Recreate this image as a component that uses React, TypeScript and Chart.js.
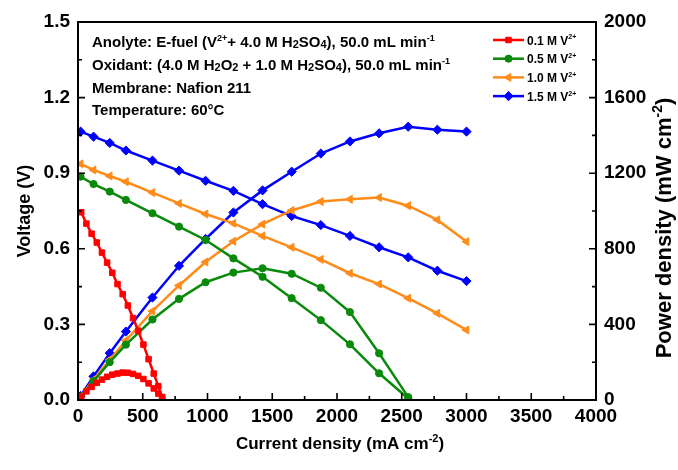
import React, { useEffect, useRef } from 'react';
import { Chart, registerables } from 'chart.js';

Chart.register(...registerables);

// Current density (mA cm-2) at each measured point
const currentRed = [25, 65, 105, 145, 185, 225, 265, 305, 345, 385, 425, 465, 505, 545, 585, 620, 650];
const currentHigh = [20, 120, 245, 370, 575, 780, 985, 1200, 1425, 1650, 1875, 2100, 2325, 2550, 2775, 3000];

// Cell voltage (V)
const voltageRed = [0.745, 0.70, 0.66, 0.625, 0.585, 0.545, 0.505, 0.46, 0.42, 0.375, 0.325, 0.275, 0.22, 0.162, 0.105, 0.055, 0.012];
const voltageGreen = [0.886, 0.857, 0.827, 0.794, 0.741, 0.688, 0.635, 0.562, 0.489, 0.404, 0.317, 0.221, 0.106, 0.006];
const voltageOrange = [0.937, 0.913, 0.889, 0.866, 0.823, 0.78, 0.738, 0.701, 0.651, 0.606, 0.558, 0.503, 0.46, 0.404, 0.344, 0.278];
const voltageBlue = [1.065, 1.045, 1.02, 0.99, 0.95, 0.91, 0.87, 0.83, 0.777, 0.73, 0.694, 0.651, 0.606, 0.566, 0.513, 0.472];

// Power density (mW cm-2)
const powerRed = [19, 46, 69, 91, 108, 123, 134, 140, 145, 144, 138, 128, 111, 88, 61, 34, 8];
const powerGreen = [18, 100, 200, 293, 426, 535, 623, 674, 697, 668, 594, 465, 247, 15];
const powerOrange = [19, 108, 213, 315, 470, 606, 730, 840, 930, 1003, 1050, 1062, 1071, 1028, 953, 838];
const powerBlue = [21, 125, 248, 362, 542, 710, 852, 992, 1109, 1208, 1304, 1368, 1411, 1446, 1430, 1420];

// Tick settings
const xTickStep = 500;
const voltageTickStep = 0.3;
const powerTickStep = 400;

const FONT = '"Liberation Sans", Arial, Helvetica, sans-serif';

type Kind = 'n' | 'sup' | 'sub';
type Seg = [string, Kind];

const fontFor = (kind: Kind, size: number) =>
  `bold ${kind === 'n' ? size : Math.round(size * (kind === 'sup' ? 0.62 : 0.7))}px ${FONT}`;

function measureRich(ctx: CanvasRenderingContext2D, segs: Seg[], size: number) {
  let w = 0;
  for (const [t, k] of segs) {
    ctx.font = fontFor(k, size);
    w += ctx.measureText(t).width;
  }
  return w;
}

function drawRich(ctx: CanvasRenderingContext2D, segs: Seg[], x: number, y: number, size: number) {
  ctx.textBaseline = 'alphabetic';
  ctx.textAlign = 'left';
  let cx = x;
  for (const [t, k] of segs) {
    ctx.font = fontFor(k, size);
    const dy = k === 'sup' ? -size * 0.42 : k === 'sub' ? size * 0.08 : 0;
    ctx.fillText(t, cx, y + dy);
    cx += ctx.measureText(t).width;
  }
}

const noteLines: Seg[][] = [
  [['Anolyte: E-fuel (V', 'n'], ['2+', 'sup'], ['+ 4.0 M H', 'n'], ['2', 'sub'], ['SO', 'n'], ['4', 'sub'], ['), 50.0 mL min', 'n'], ['-1', 'sup']],
  [['Oxidant: (4.0 M H', 'n'], ['2', 'sub'], ['O', 'n'], ['2', 'sub'], [' + 1.0 M H', 'n'], ['2', 'sub'], ['SO', 'n'], ['4', 'sub'], ['), 50.0 mL min', 'n'], ['-1', 'sup']],
  [['Membrane: Nafion 211', 'n']],
  [['Temperature: 60\u00B0C', 'n']],
];

const xTitle: Seg[] = [['Current density (mA cm', 'n'], ['-2', 'sup'], [')', 'n']];
const leftTitle: Seg[] = [['Voltage (V)', 'n']];
const rightTitle: Seg[] = [['Power density (mW cm', 'n'], ['-2', 'sup'], [')', 'n']];

const groups = [
  { name: '0.1 M V', current: currentRed, voltage: voltageRed, power: powerRed, color: '#FF0000', style: 'rect', rot: 0, r: 3.9 },
  { name: '0.5 M V', current: currentHigh.slice(0, voltageGreen.length), voltage: voltageGreen, power: powerGreen, color: '#0A8A0A', style: 'circle', rot: 0, r: 3.6 },
  { name: '1.0 M V', current: currentHigh, voltage: voltageOrange, power: powerOrange, color: '#FF8C1A', style: 'triangle', rot: 270, r: 4.6 },
  { name: '1.5 M V', current: currentHigh, voltage: voltageBlue, power: powerBlue, color: '#0000FF', style: 'rectRot', rot: 0, r: 4.6 },
];

function drawMarker(ctx: CanvasRenderingContext2D, style: string, r: number, rot: number, x: number, y: number) {
  ctx.save();
  ctx.translate(x, y);
  ctx.rotate((rot * Math.PI) / 180);
  ctx.beginPath();
  if (style === 'rect') {
    const s = r * Math.SQRT1_2;
    ctx.rect(-s, -s, 2 * s, 2 * s);
  } else if (style === 'circle') {
    ctx.arc(0, 0, r, 0, Math.PI * 2);
  } else if (style === 'triangle') {
    ctx.moveTo(0, -r);
    ctx.lineTo(r * Math.cos(Math.PI / 6), r * 0.5);
    ctx.lineTo(-r * Math.cos(Math.PI / 6), r * 0.5);
    ctx.closePath();
  } else {
    ctx.moveTo(0, -r);
    ctx.lineTo(r, 0);
    ctx.lineTo(0, r);
    ctx.lineTo(-r, 0);
    ctx.closePath();
  }
  ctx.fill();
  ctx.stroke();
  ctx.restore();
}

const decorPlugin = {
  id: 'decor',
  afterDraw(chart: any) {
    const { ctx, chartArea, scales } = chart;
    const { left, right, top, bottom } = chartArea;
    ctx.save();
    ctx.fillStyle = '#000';
    ctx.strokeStyle = '#000';

    // frame
    ctx.lineWidth = 2;
    ctx.strokeRect(left, top, right - left, bottom - top);

    // inward ticks (major + minor)
    ctx.lineWidth = 1.6;
    ctx.beginPath();
    for (let i = 0; i <= 16; i++) {
      const px = scales.x.getPixelForValue((i * xTickStep) / 2);
      const len = i % 2 === 0 ? 7 : 4;
      ctx.moveTo(px, bottom);
      ctx.lineTo(px, bottom - len);
    }
    for (let i = 0; i <= 10; i++) {
      const py = scales.yV.getPixelForValue((i * voltageTickStep) / 2);
      const len = i % 2 === 0 ? 7 : 4;
      ctx.moveTo(left, py);
      ctx.lineTo(left + len, py);
    }
    for (let i = 0; i <= 10; i++) {
      const py = scales.yP.getPixelForValue((i * powerTickStep) / 2);
      const len = i % 2 === 0 ? 7 : 4;
      ctx.moveTo(right, py);
      ctx.lineTo(right - len, py);
    }
    ctx.stroke();

    // condition notes
    const noteSize = 15;
    noteLines.forEach((segs, i) => drawRich(ctx, segs, left + 14, top + 25 + i * 22.8, noteSize));

    // legend
    groups.forEach((g, i) => {
      const y = top + 18 + i * 18.7;
      const x0 = left + 415;
      const x1 = x0 + 31;
      ctx.strokeStyle = g.color;
      ctx.lineWidth = 2.5;
      ctx.beginPath();
      ctx.moveTo(x0, y);
      ctx.lineTo(x1, y);
      ctx.stroke();
      ctx.fillStyle = g.color;
      ctx.lineWidth = 1;
      drawMarker(ctx, g.style, g.r, g.rot, (x0 + x1) / 2, y);
      ctx.fillStyle = '#000';
      drawRich(ctx, [[g.name, 'n'], ['2+', 'sup']], x1 + 3, y + 4.5, 12);
    });

    // axis titles
    ctx.fillStyle = '#000';
    const xSize = 17;
    const wx = measureRich(ctx, xTitle, xSize);
    drawRich(ctx, xTitle, (left + right) / 2 - wx / 2 + 3, 449, xSize);

    const lSize = 18;
    const wl = measureRich(ctx, leftTitle, lSize);
    ctx.save();
    ctx.translate(23, (top + bottom) / 2);
    ctx.rotate(-Math.PI / 2);
    drawRich(ctx, leftTitle, -wl / 2, 6.5, lSize);
    ctx.restore();

    const rSize = 22;
    const wr = measureRich(ctx, rightTitle, rSize);
    ctx.save();
    ctx.translate(664, 228);
    ctx.rotate(-Math.PI / 2);
    drawRich(ctx, rightTitle, -wr / 2, 7, rSize);
    ctx.restore();

    ctx.restore();
  },
};

export default function App() {
  const ref = useRef<HTMLCanvasElement | null>(null);

  useEffect(() => {
    document.body.style.margin = '0';
    const canvas = ref.current;
    if (!canvas) return;

    const datasets: any[] = [];
    groups.forEach((g) => {
      const base = {
        borderColor: g.color,
        backgroundColor: g.color,
        borderWidth: 2.5,
        pointRadius: g.r,
        pointStyle: g.style,
        pointRotation: g.rot,
        pointBorderWidth: 1,
        tension: 0,
        fill: false,
      };
      datasets.push({ ...base, label: g.name + ' voltage', yAxisID: 'yV', data: g.current.map((c, i) => ({ x: c, y: g.voltage[i] })) });
      datasets.push({ ...base, label: g.name + ' power', yAxisID: 'yP', data: g.current.map((c, i) => ({ x: c, y: g.power[i] })) });
    });

    const tickFont = { family: FONT, size: 19, weight: 'bold' as const };

    const chart = new Chart(canvas, {
      type: 'line',
      data: { datasets },
      options: {
        responsive: false,
        animation: false,
        layout: { padding: { top: 22, left: 0, right: 0, bottom: 0 } },
        plugins: { legend: { display: false }, tooltip: { enabled: false } },
        scales: {
          x: {
            type: 'linear',
            min: 0,
            max: 4000,
            ticks: { stepSize: xTickStep, font: tickFont, color: '#000', padding: 5, maxRotation: 0, callback: (v: any) => String(v) },
            grid: { display: false, drawTicks: false },
            border: { display: false },
            afterFit: (s: any) => { s.height = 70; },
          },
          yV: {
            type: 'linear',
            position: 'left',
            min: 0,
            max: 1.5,
            ticks: { stepSize: voltageTickStep, font: tickFont, color: '#000', padding: 8, callback: (v: any) => Number(v).toFixed(1) },
            grid: { display: false, drawTicks: false },
            border: { display: false },
            afterFit: (s: any) => { s.width = 78; },
          },
          yP: {
            type: 'linear',
            position: 'right',
            min: 0,
            max: 2000,
            ticks: { stepSize: powerTickStep, font: tickFont, color: '#000', padding: 8, callback: (v: any) => String(v) },
            grid: { display: false, drawTicks: false },
            border: { display: false },
            afterFit: (s: any) => { s.width = 82; },
          },
        },
      } as any,
      plugins: [decorPlugin],
    });

    return () => chart.destroy();
  }, []);

  return <canvas ref={ref} width={678} height={470} style={{ display: 'block' }} />;
}
